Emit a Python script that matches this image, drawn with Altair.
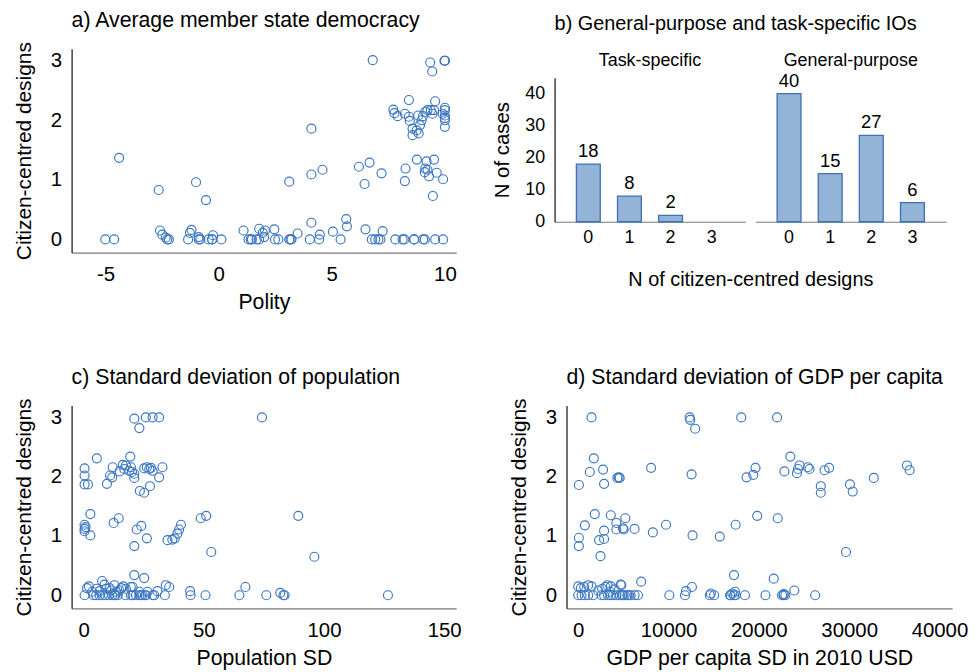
import altair as alt
import pandas as pd

FONT = "Liberation Sans"
BLUE = "#3a76c2"

# ---------------- Panel a: polity vs citizen-centred designs ----------------
a_polity = [
    6.81, 9.35, 9.44, 10.0, 10.0, 9.98,
    8.41, 9.57, 7.72, 7.77, 7.91, 8.23, 8.41, 8.45, 8.57, 8.57, 8.75, 8.84, 8.97, 9.03,
    9.13, 9.23, 9.45, 9.52, 10.0, 10.0, 10.0, 10.0, 10.0, 10.0, 4.10, 8.82, 9.38, 9.90, 8.90,
    -4.40, -2.65, -1.00, -0.56, 3.12, 4.10, 4.59, 6.20, 6.45, 6.67, 7.20, 8.26, 8.23, 8.76,
    9.19, 9.13, 9.11, 9.30, 9.52, 9.64, 9.92, 9.47, 9.23,
    -5.01, -4.62, -2.27, -2.20, -1.35, -0.88, -0.81, -0.44, -0.29, 0.12, 1.32, 1.42, 1.68,
    1.79, 2.49, 2.64, 3.12, 3.18, 4.03, 4.44, 5.39, 6.77, 6.92, 7.06, 7.15, 7.81, 8.13, 8.21,
    8.64, 9.04, 9.11, 9.57, 9.92, 8.64, 1.47, -0.29, 3.22,
    -2.59, -2.49, -1.20, -1.27, -0.25, 1.10, 1.79, 1.95, 2.05, 2.01, 2.46, 3.49, 4.10, 4.47,
    5.05, 5.64, 5.67, 6.49, 7.25, -0.88, -2.34,
]
a_designs = [
    3.01, 2.97, 2.82, 3.0, 3.0, 3.0,
    2.34, 2.32, 2.18, 2.12, 2.07, 2.11, 2.06, 1.99, 1.86, 1.75, 1.83, 1.78, 2.00, 2.07,
    2.14, 2.17, 2.11, 2.17, 2.17, 2.08, 2.00, 1.89, 2.21, 2.04, 1.86, 2.08, 2.17, 2.11, 1.92,
    1.37, 0.83, 0.96, 0.66, 0.97, 1.09, 1.17, 1.22, 0.93, 1.29, 1.11, 1.19, 0.98, 1.34,
    1.31, 1.19, 1.13, 1.06, 1.34, 1.12, 1.01, 0.73, 1.17,
    0, 0, 0, 0, 0, 0, 0, 0, 0, 0, 0, 0, 0,
    0, 0, 0, 0, 0, 0, 0, 0, 0, 0, 0, 0, 0, 0, 0,
    0, 0, 0, 0, 0, 0, 0, 0, 0,
    0.15, 0.08, 0.16, 0.11, 0.07, 0.15, 0.18, 0.11, 0.15, 0.04, 0.17, 0.10, 0.28, 0.08,
    0.13, 0.34, 0.22, 0.17, 0.14, 0.04, 0.03,
]

# ---------------- Panel b: counts ----------------
b_categories = ["0", "1", "2", "3"]
b_types = ["Task-specific", "General-purpose"]
b_task_counts = [18, 8, 2]
b_general_counts = [40, 15, 27, 6]

# ---------------- Panel c: population SD ----------------
c_popsd = [
    21.1, 25.9, 28.7, 31.4, 74.2, 23.2,
    5.5, 19.4, 0.4, 0.4, 0.4, 1.8, 9.7, 11.0, 11.9, 12.1, 15.0, 16.3, 17.6, 19.0, 20.1,
    21.1, 21.1, 25.2, 26.3, 28.0, 28.7, 31.4, 32.8, 23.4, 25.2, 27.6, 19.7, 27.3, 16.9,
    2.8, 0.4, 0.4, 0.4, 2.8, 12.5, 14.6, 22.1, 24.0, 21.1, 26.3, 34.9, 37.9, 39.0, 39.7,
    40.5, 48.7, 51.0, 53.1, 89.3, 96.0, 0.8, 36.9,
    0.4, 4.1, 6.6, 9.1, 10.5, 11.9, 13.2, 17.4, 20.4, 21.8, 23.2, 24.5, 25.9, 28.7, 29.4,
    33.8, 44.5, 50.7, 64.8, 76.0, 83.1, 83.6, 126.6, 5.2, 8.0, 12.8, 14.2, 19.7, 23.9, 25.6,
    1.4, 2.2, 5.5, 7.7, 8.7, 9.4, 12.8, 16.5, 17.6, 19.6, 20.4, 21.1, 25.2, 30.7, 34.2,
    35.6, 44.3, 67.3, 81.8, 11.4, 14.9, 10.8, 15.6, 6.6, 23.2, 26.6, 13.5, 3.6,
]
c_designs = [
    2.98, 3.0, 3.0, 3.0, 3.0, 2.82,
    2.31, 2.34, 2.14, 2.02, 1.87, 1.87, 1.88, 2.02, 1.99, 2.16, 2.09, 2.20, 2.19, 2.10, 2.08,
    2.05, 1.98, 2.14, 2.16, 2.15, 2.10, 1.99, 2.16, 1.76, 1.73, 1.84, 2.16, 2.13, 2.13,
    1.37, 1.19, 1.12, 1.08, 1.01, 1.22, 1.30, 1.11, 1.17, 0.83, 0.96, 0.93, 0.96, 1.04, 1.11,
    1.19, 1.30, 1.34, 0.73, 1.34, 0.65, 1.15, 0.94,
    0, 0, 0, 0, 0, 0, 0, 0, 0, 0, 0, 0, 0, 0, 0,
    0, 0, 0, 0, 0, 0, 0, 0, 0, 0, 0, 0, 0, 0, 0,
    0.12, 0.15, 0.11, 0.24, 0.18, 0.11, 0.17, 0.15, 0.11, 0.14, 0.14, 0.34, 0.29, 0.07, 0.17,
    0.14, 0.07, 0.14, 0.04, 0.08, 0.08, 0.12, 0.12, 0.07, 0.06, 0.06, 0.06, 0.06,
]

# ---------------- Panel d: GDP per capita SD ----------------
d_gdpsd = [
    1470, 12330, 12400, 12950, 18050, 22020,
    70, 1280, 1720, 2750, 2860, 4330, 4590, 8070, 12550, 18640, 19380, 19630, 22830, 23490,
    24220, 24330, 24510, 25430, 25610, 26860, 26860, 27270, 27780, 30090, 30390, 32730,
    36400, 36700, 4480,
    70, 70, 730, 1830, 2460, 2310, 2860, 2860, 3600, 4220, 4220, 4950, 5210, 6240, 8260,
    9720, 12660, 15670, 17430, 19820, 22090, 29650, 5030,
    0, 370, 730, 1650, 2570, 2860, 3600, 3850, 4220, 4590, 4840, 5140, 5430, 5800, 6240,
    6610, 10090, 11820, 14570, 15050, 16810, 17250, 18460, 20730, 22570, 22750, 22940,
    26240, 16880, 17430, 1100, 3300, 4950, 5580,
    0, 290, 660, 1100, 1470, 2640, 3010, 3230, 3600, 4700, 4770, 4040, 6970, 11930, 12590,
    17250, 17360, 21650, 23930, 2200, 3490, 14680, 17060, 22750,
]
d_designs = [
    3.0, 3.0, 2.96, 2.81, 3.0, 3.0,
    1.86, 2.08, 2.31, 2.12, 1.88, 1.98, 1.98, 2.15, 2.04, 1.99, 2.03, 2.15, 2.09, 2.34,
    2.06, 2.13, 2.19, 2.16, 2.13, 1.84, 1.73, 2.11, 2.15, 1.87, 1.75, 1.98,
    2.19, 2.11, 1.99,
    0.97, 0.83, 1.18, 1.37, 0.66, 0.93, 0.95, 1.09, 1.35, 1.22, 1.11, 1.13, 1.30, 1.12, 1.06,
    1.19, 1.01, 0.99, 1.19, 1.34, 1.30, 0.73, 1.11,
    0, 0, 0, 0, 0, 0, 0, 0, 0, 0, 0, 0, 0, 0, 0,
    0, 0, 0, 0, 0, 0, 0, 0, 0, 0, 0, 0,
    0, 0, 0, 0, 0, 0, 0,
    0.15, 0.12, 0.14, 0.17, 0.15, 0.11, 0.14, 0.17, 0.15, 0.18, 0.17, 0.10, 0.23, 0.07, 0.14,
    0.34, 0.06, 0.28, 0.08, 0.08, 0.06, 0.03, 0.03, 0.02,
]

df_a = pd.DataFrame({"x": a_polity, "y": a_designs})
df_c = pd.DataFrame({"x": c_popsd, "y": c_designs})
df_d = pd.DataFrame({"x": d_gdpsd, "y": d_designs})
df_ts = pd.DataFrame({"cat": b_categories[:len(b_task_counts)], "n": b_task_counts})
df_gp = pd.DataFrame({"cat": b_categories, "n": b_general_counts})
df_hdr = pd.DataFrame({"type": b_types})

YSCALE = alt.Scale(domain=[-0.22, 3.2], nice=False, zero=False)
YAXIS = alt.Axis(values=[0, 1, 2, 3], title="Citizen-centred designs",
                 titlePadding=16, labelPadding=10, titleFontSize=21)


def scatter(df, title, xtitle, xdomain, xvalues, w, h):
    return (
        alt.Chart(df, title=alt.Title(title))
        .mark_point(shape="circle", filled=False, size=82, strokeWidth=1.15, color=BLUE, opacity=1)
        .encode(
            x=alt.X("x:Q", scale=alt.Scale(domain=xdomain, nice=False, zero=False),
                    axis=alt.Axis(values=xvalues, title=xtitle, labelExpr="'' + datum.value",
                                  labelPadding=12, titlePadding=7)),
            y=alt.Y("y:Q", scale=YSCALE, axis=YAXIS),
        )
        .properties(width=w, height=h)
    )


chart_a = scatter(df_a, "a) Average member state democracy", "Polity",
                  [-6.5, 10.5], [-5, 0, 5, 10], 387, 205)
chart_c = scatter(df_c, "c) Standard deviation of population", "Population SD",
                  [-5, 155], [0, 50, 100, 150], 387, 204)
chart_d = scatter(df_d, "d) Standard deviation of GDP per capita", "GDP per capita SD in 2010 USD",
                  [-1300, 41400], [0, 10000, 20000, 30000, 40000], 388, 204)

XB = alt.Scale(domain=b_categories, paddingInner=0.42, paddingOuter=0.53)
YB = alt.Scale(domain=[0, 45], nice=False)


def bar_panel(df, first):
    yaxis = (alt.Axis(values=[0, 10, 20, 30, 40], title="N of cases", labelFontSize=18,
                      titleFontSize=20.5, labelPadding=10, titlePadding=12)
             if first else None)
    if first:
        xaxis = alt.Axis(labelAngle=0, title="N of citizen-centred designs", labelFontSize=18,
                         labelPadding=7, titleFontSize=20, titlePadding=23,
                         titleX=197, titleAlign="center")
    else:
        xaxis = alt.Axis(labelAngle=0, title=None, labelFontSize=18, labelPadding=7)
    base = alt.Chart(df).encode(
        x=alt.X("cat:N", scale=XB, axis=xaxis),
        y=alt.Y("n:Q", scale=YB, axis=yaxis),
    )
    bars = base.mark_bar(color="#93b3d7", stroke="#3d70b5", strokeWidth=1.3)
    text = base.mark_text(baseline="bottom", dy=-3, fontSize=18.5, font=FONT,
                          color="black").encode(text="n:Q")
    return alt.layer(bars, text).properties(width=192, height=145)


header = (
    alt.Chart(df_hdr, title=alt.Title("b) General-purpose and task-specific IOs",
                                      fontSize=20, offset=15))
    .mark_text(fontSize=18, font=FONT, color="black", baseline="middle")
    .encode(
        x=alt.X("type:N", scale=alt.Scale(type="point", domain=b_types, padding=0.475),
                axis=None),
        y=alt.value(12),
        text="type:N",
    )
    .properties(width=394, height=20)
)

bars_row = alt.hconcat(bar_panel(df_ts, True), bar_panel(df_gp, False),
                       spacing=10, bounds="flush")

chart_b = alt.vconcat(header, bars_row, spacing=9, bounds="flush")

row1 = alt.hconcat(chart_a, chart_b, spacing=99, bounds="flush")
row2 = alt.hconcat(chart_c, chart_d, spacing=111, bounds="flush")

# nested concat rows count as zero height under flush bounds, so the spacing is
# the distance between the two rows' plot tops
chart = (
    alt.vconcat(row1, row2, spacing=359, bounds="flush")
    .properties(padding={"left": 5, "top": 0, "right": 0, "bottom": 0}, background="white")
    .configure(font=FONT)
    .configure_view(stroke=None)
    .configure_axis(grid=False, ticks=False, labelFont=FONT, titleFont=FONT,
                    labelFontSize=20.5, titleFontSize=21.4, labelColor="black",
                    titleColor="black", titleFontWeight="normal", domainWidth=1.2)
    .configure_axisX(domainColor="#7a7a7a")
    .configure_axisY(domainColor="#111111")
    .configure_title(font=FONT, fontSize=21.4, fontWeight="normal", anchor="start",
                     frame="group", color="black", offset=10)
)

chart.save("out.html", embed_options={"renderer": "svg", "actions": False})
